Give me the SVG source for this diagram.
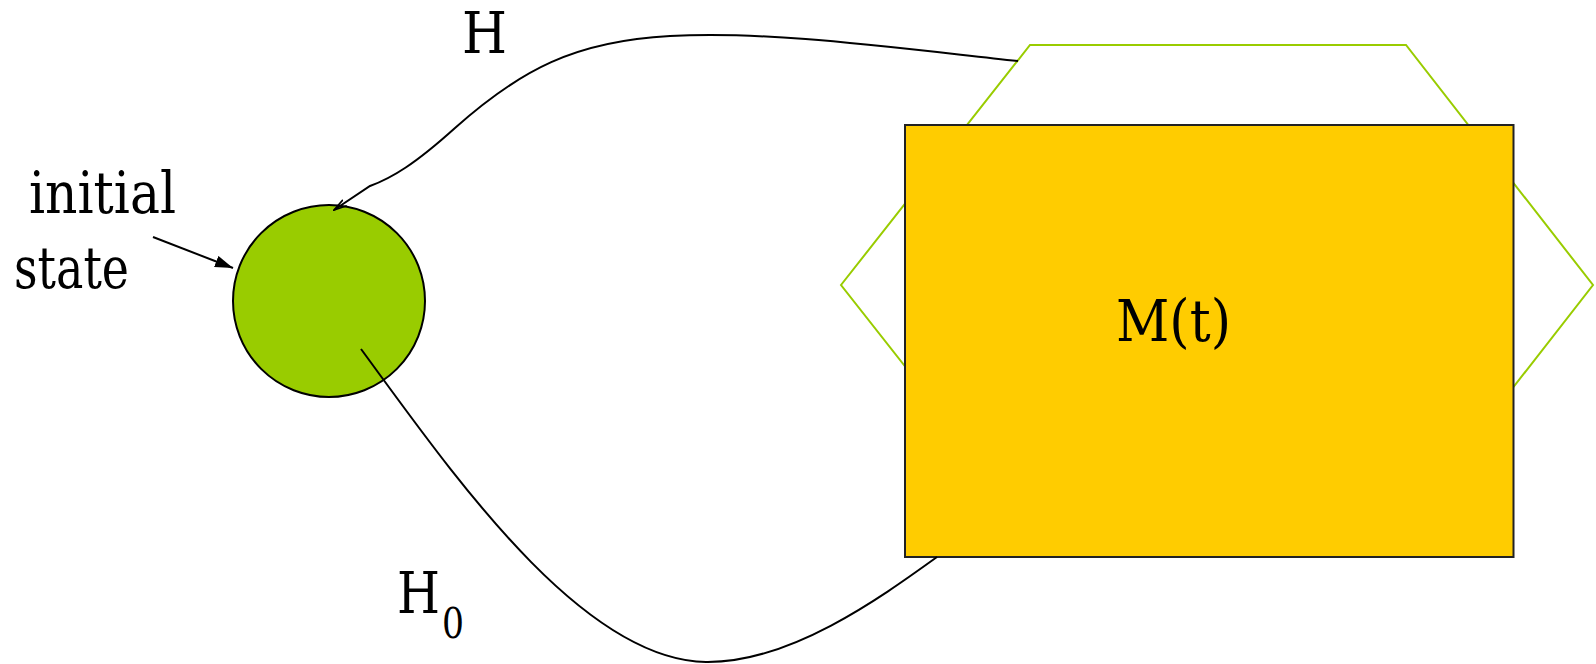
<svg xmlns="http://www.w3.org/2000/svg" width="1596" height="664" viewBox="0 0 1596 664">
  <style>
    .lbl { font-family: "DejaVu Serif", "Liberation Serif", serif; font-size: 57px; fill: #000; }
    .conn { fill: none; stroke: #000; stroke-width: 2; }
  </style>
  <defs>
    <marker id="solidHead" viewBox="0 0 18 12" refX="18" refY="6" markerWidth="18" markerHeight="12" markerUnits="userSpaceOnUse" orient="auto">
      <path d="M0,0 L18,6 L0,12 z" fill="#000"/>
    </marker>
    <marker id="openHead" viewBox="0 0 14 10" refX="13" refY="5" markerWidth="14" markerHeight="10" markerUnits="userSpaceOnUse" orient="auto">
      <path d="M0,1.5 L13,5 L0,8.5" fill="none" stroke="#000" stroke-width="1.6"/>
    </marker>
  </defs>
  <rect width="1596" height="664" fill="#fff"/>

  <g id="hexagon">
    <polygon points="841,285 1030,45 1406,45 1593,285 1406,525 1030,525" fill="none" stroke="#99CC00" stroke-width="2"/>
  </g>

  <g id="box-M">
    <rect x="905" y="125" width="608.5" height="432" fill="#FFCC00" stroke="#222" stroke-width="2"/>
    <text class="lbl" x="1116" y="340.5" textLength="115" lengthAdjust="spacingAndGlyphs">M(t)</text>
  </g>

  <g id="initial-state">
    <circle cx="329" cy="301" r="96" fill="#99CC00" stroke="#000" stroke-width="2"/>
  </g>

  <g id="label-initial">
    <text class="lbl" x="29" y="212.5" textLength="147" lengthAdjust="spacingAndGlyphs">initial</text>
    <text class="lbl" x="14" y="287.5" textLength="115" lengthAdjust="spacingAndGlyphs">state</text>
  </g>

  <g id="connectors">
    <line class="conn" x1="153" y1="237" x2="233" y2="268" marker-end="url(#solidHead)"/>
    <path class="conn" d="M1018,61 C880,46 770,31 670,36 C575,41 520,70 455,128 C415,164 392,178 370,186 L334,210" marker-end="url(#openHead)"/>
    <path class="conn" d="M361,349 C450,470 580,660 706,662 C790,663 880,598 937,557"/>
  </g>

  <g id="edge-labels">
    <text class="lbl" x="462" y="52.5" textLength="45" lengthAdjust="spacingAndGlyphs">H</text>
    <text class="lbl" x="397" y="612.5"><tspan textLength="43" lengthAdjust="spacingAndGlyphs">H</tspan><tspan font-size="42" dy="25" dx="2" textLength="22" lengthAdjust="spacingAndGlyphs">0</tspan></text>
  </g>
</svg>
